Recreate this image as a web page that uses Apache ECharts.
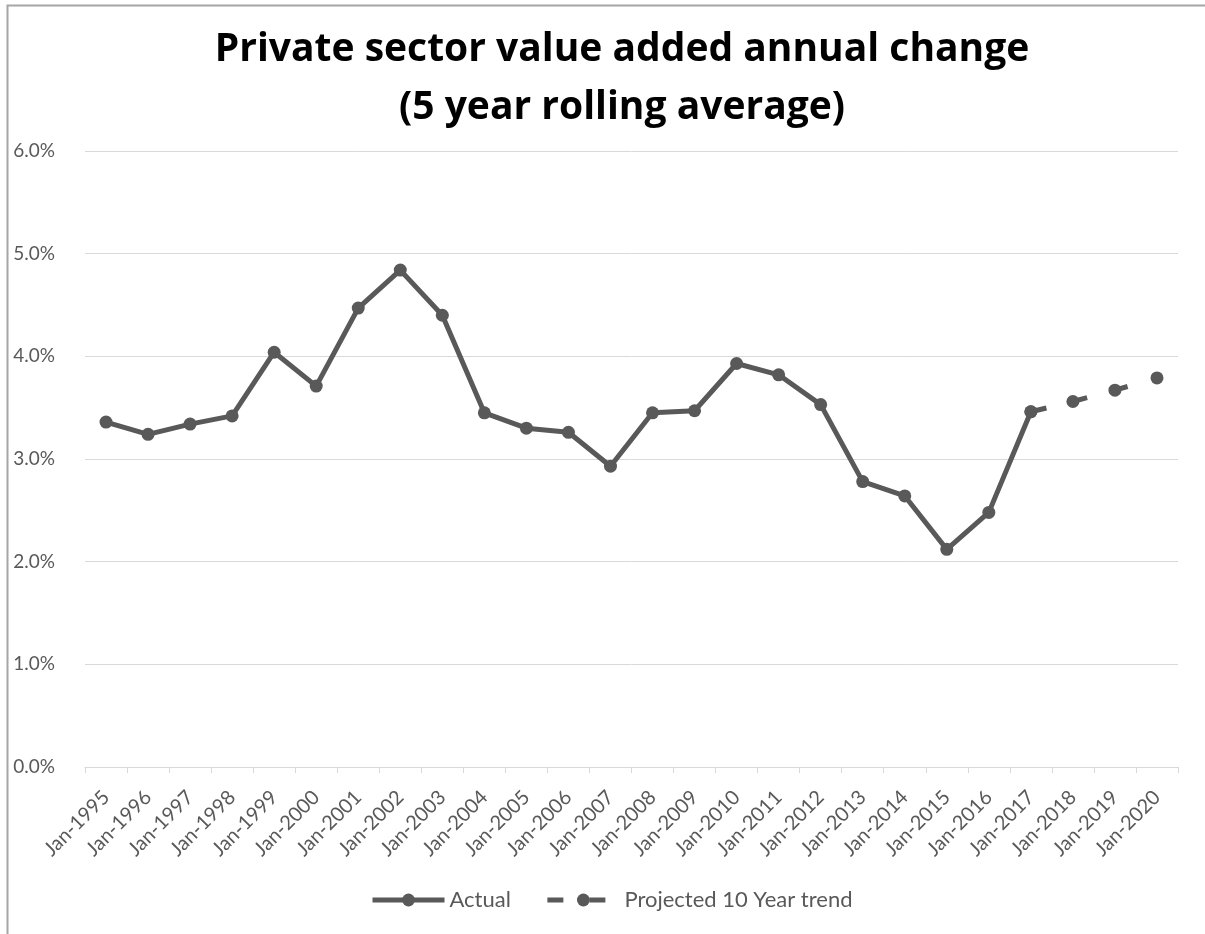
<!DOCTYPE html>
<html>
<head>
<meta charset="utf-8">
<style>
  html, body { margin: 0; padding: 0; background: #fff; }
  #chart { width: 1205px; height: 934px; }
</style>
<script src="https://cdn.jsdelivr.net/npm/echarts@6/dist/echarts.min.js"></script>
</head>
<body>
<div id="chart"></div>
<script>
// Category labels (one per year)
const years = [
  'Jan-1995','Jan-1996','Jan-1997','Jan-1998','Jan-1999','Jan-2000','Jan-2001',
  'Jan-2002','Jan-2003','Jan-2004','Jan-2005','Jan-2006','Jan-2007','Jan-2008',
  'Jan-2009','Jan-2010','Jan-2011','Jan-2012','Jan-2013','Jan-2014','Jan-2015',
  'Jan-2016','Jan-2017','Jan-2018','Jan-2019','Jan-2020'
];

// Actual 5-year rolling average, % (1995–2017)
const actual = [
  3.36, 3.24, 3.34, 3.42, 4.04, 3.71, 4.47, 4.84, 4.40, 3.45, 3.30, 3.26,
  2.93, 3.45, 3.47, 3.93, 3.82, 3.53, 2.78, 2.64, 2.12, 2.48, 3.46,
  null, null, null
];

// Projected 10-year trend, % (from 2017 onwards)
const projected = [
  null, null, null, null, null, null, null, null, null, null, null, null,
  null, null, null, null, null, null, null, null, null, null, 3.46,
  3.56, 3.67, 3.79
];

const yTicks = { min: 0, max: 6, interval: 1 };

const ink = '#595959';
const font = 'Lato';

const chart = echarts.init(document.getElementById('chart'));
chart.setOption({
  animation: false,
  backgroundColor: '#fff',
  textStyle: { fontFamily: font },
  title: {
    text: 'Private sector value added annual change\n(5 year rolling average)',
    left: 617,
    top: 16,
    textAlign: 'center',
    textStyle: {
      fontFamily: 'Open Sans',
      fontSize: 39,
      fontWeight: 'bold',
      color: '#000',
      lineHeight: 58
    }
  },
  graphic: [{
    type: 'polyline',
    shape: { points: [[7.5, 934], [7.5, 5.5], [1205, 5.5]] },
    style: { stroke: '#a6a6a6', lineWidth: 2, fill: null },
    silent: true
  }],
  legend: {
    bottom: 18,
    left: 365,
    itemWidth: 72,
    itemHeight: 16,
    itemGap: 34,
    lineStyle: { width: 5 },
    textStyle: { color: ink, fontSize: 22, fontFamily: font },
    data: ['Actual', 'Projected 10 Year trend']
  },
  grid: { left: 85, right: 27, top: 151, bottom: 167 },
  xAxis: {
    type: 'category',
    data: years,
    boundaryGap: true,
    axisLine: { lineStyle: { color: '#d9d9d9', width: 1 } },
    axisTick: { show: true, length: 6, lineStyle: { color: '#d9d9d9' } },
    axisLabel: {
      rotate: 45,
      interval: 0,
      color: ink,
      fontSize: 20,
      fontFamily: font,
      margin: 27
    }
  },
  yAxis: {
    type: 'value',
    min: yTicks.min,
    max: yTicks.max,
    interval: yTicks.interval,
    axisLine: { show: false },
    axisTick: { show: false },
    splitLine: { lineStyle: { color: '#d9d9d9', width: 1 } },
    axisLabel: {
      color: ink,
      fontSize: 19,
      fontFamily: font,
      margin: 30,
      formatter: v => v.toFixed(1) + '%'
    }
  },
  series: [
    {
      name: 'Actual',
      type: 'line',
      data: actual,
      symbol: 'circle',
      symbolSize: 13,
      itemStyle: { color: ink },
      lineStyle: { color: ink, width: 5 },
      z: 3
    },
    {
      name: 'Projected 10 Year trend',
      type: 'line',
      data: projected,
      symbol: 'circle',
      symbolSize: 13,
      itemStyle: { color: ink },
      lineStyle: { color: ink, width: 5, type: [16, 26] },
      z: 2
    }
  ]
});
</script>
</body>
</html>
